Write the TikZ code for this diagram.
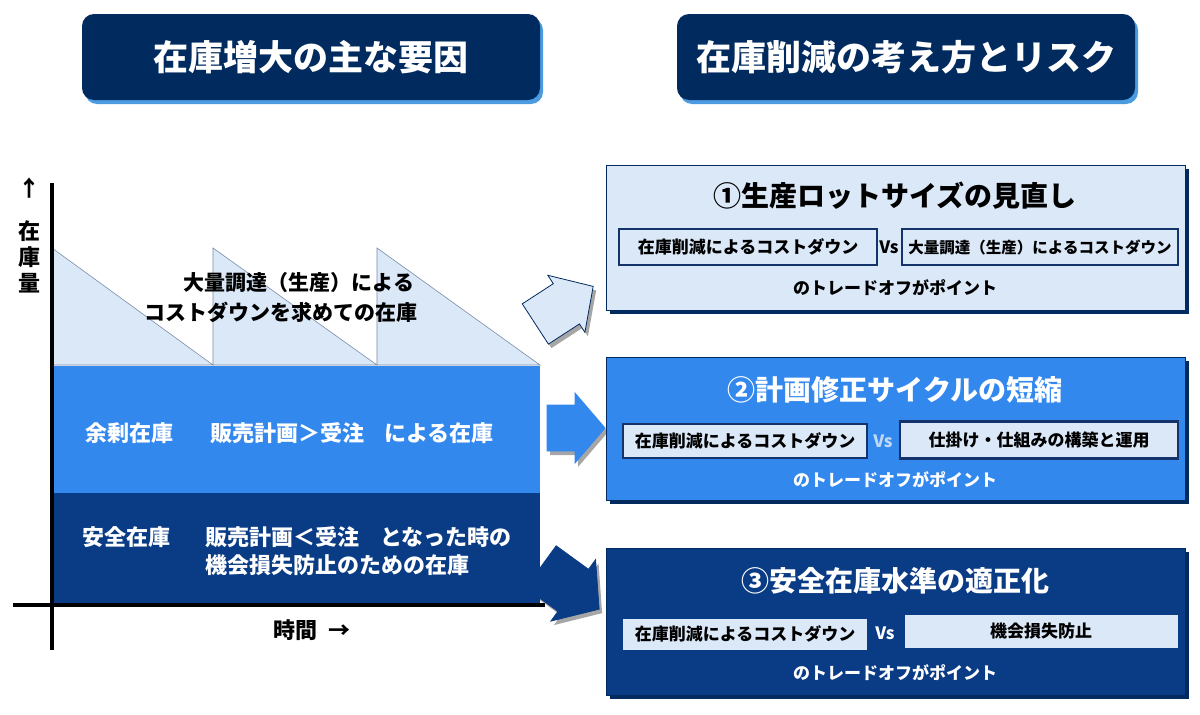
\documentclass[tikz,border=0pt]{standalone}
\usepackage{fontspec}
\setmainfont{Noto Sans CJK JP}
\usetikzlibrary{positioning,shadows}
\definecolor{tnavy}{HTML}{012A5E}
\definecolor{tedge}{HTML}{4A9BE0}
\definecolor{paleblue}{HTML}{DAE8F8}
\definecolor{midblue}{HTML}{3388EE}
\definecolor{deepblue}{HTML}{0A3B85}
\definecolor{frameblue}{HTML}{14336B}
\definecolor{sawline}{HTML}{7A8CA8}
\definecolor{vsblue}{HTML}{BFD9F5}
\newcommand\jpf[1]{\fontsize{#1}{#1}\selectfont\bfseries}
\tikzset{
  titlebox/.style={rounded corners=12pt, fill=tnavy, text=white, font=\jpf{35},
    minimum width=458pt, minimum height=86pt,
    drop shadow={shadow xshift=3pt, shadow yshift=-4pt, fill=tedge, opacity=1}},
  panel/.style={draw=tnavy, line width=0.8pt, minimum width=579pt,
    drop shadow={shadow xshift=4pt, shadow yshift=-4pt, fill=tnavy, opacity=1}},
  headline/.style={font=\jpf{28}},
  pairbox/.style={fill=paleblue, draw=frameblue, line width=2.5pt, font=\jpf{17}, inner sep=0pt},
  vsmark/.style={font=\jpf{17}},
  tradeoff/.style={font=\jpf{17}},
  bandtext/.style={text=white, font=\jpf{22}, anchor=west, inner sep=0pt},
  axis/.style={line width=4pt, draw=black},
  arrowbody/.style={line width=0.8pt,
    drop shadow={shadow xshift=3pt, shadow yshift=-4pt, fill=black, opacity=0.35}}
}
\begin{document}
\begin{tikzpicture}[x=1pt, y=-1pt]
\useasboundingbox (0,0) rectangle (1200,715);
% ================= heading bars =================
\node[titlebox] (cause) at (311,57) {在庫増大の主な要因};
\node[titlebox] (risk) at (906,57) {在庫削減の考え方とリスク};
% ================= block arrows =================
\begin{scope}[shift={(570,588)}, rotate=-36]
  \draw[arrowbody, fill=deepblue, draw=deepblue] (-36,-26) -- (4,-26) -- (4,-38) -- (36,0) -- (4,38) -- (4,26) -- (-36,26) -- cycle;
\end{scope}
% ================= inventory chart =================
\draw[fill=paleblue, draw=sawline, line width=0.6pt] (52,365) -- (52,248) -- (213,365) -- (213,248)
   -- (377,365) -- (377,248) -- (540,365) -- cycle;
\node[font=\jpf{21}] (bulk1) at (299,283) {大量調達（生産）による};
\node[font=\jpf{21}] (bulk2) at (281,312) {コストダウンを求めての在庫};
\fill[midblue] (52,366) rectangle (540,493);
\fill[deepblue] (52,493) rectangle (540,605);
\node[bandtext] (surp) at (85,433) {余剰在庫};
\node[bandtext] (surpa) at (210,433) {販売計画＞受注};
\node[bandtext] (surpb) at (384,433) {による在庫};
\node[bandtext] (safe) at (82,537) {安全在庫};
\node[bandtext] (safea) at (205,537) {販売計画＜受注};
\node[bandtext] (safeb) at (380,537) {となった時の};
\node[bandtext] (safec) at (205,565) {機会損失防止のための在庫};
% axes
\coordinate (ytop) at (52,183);
\coordinate (ybot) at (52,650);
\coordinate (xl) at (13,605);
\coordinate (xr) at (545,605);
\draw[axis] (ytop) -- (ybot);
\draw[axis] (xl) -- (xr);
\node[font=\jpf{22}] (uparr) at (30,188) {↑};
\node[font=\jpf{22}, align=center, inner sep=0pt] (qty) at (30,257) {在\\[4pt]庫\\[4pt]量};
\node[font=\jpf{22}] (time) at (312,630) {時間\enspace→};
% remaining arrows
\begin{scope}[shift={(563,306)}, rotate=33]
  \draw[arrowbody, fill=paleblue, draw=tnavy] (-33,-24) -- (4,-24) -- (4,-34) -- (36,0) -- (4,34) -- (4,24) -- (-33,24) -- cycle;
\end{scope}
\begin{scope}[shift={(576,428)}]
  \draw[arrowbody, fill=midblue, draw=midblue] (-29,-23) -- (-1,-23) -- (-1,-35) -- (29,0) -- (-1,35) -- (-1,23) -- (-29,23) -- cycle;
\end{scope}
% ================= panel 1 =================
\node[panel, fill=paleblue, minimum height=145pt] (lot) at (895.5,237.5) {};
\node[headline] (lott) at (895,196) {①生産ロットサイズの見直し};
\node[pairbox, minimum width=258pt, minimum height=36pt] (lota) at (748,247) {在庫削減によるコストダウン};
\node[vsmark] (lotvs) at (889,247) {Vs};
\node[pairbox, minimum width=276pt, minimum height=36pt, font=\jpf{15.5}] (lotb) at (1040,247) {大量調達（生産）によるコストダウン};
\node[tradeoff] (lotc) at (895,288) {のトレードオフがポイント};
% ================= panel 2 =================
\node[panel, fill=midblue, minimum height=143pt] (cyc) at (895.5,428.5) {};
\node[headline, text=white] (cyct) at (895,390) {②計画修正サイクルの短縮};
\node[pairbox, minimum width=244pt, minimum height=34pt] (cyca) at (745,441) {在庫削減によるコストダウン};
\node[vsmark, text=vsblue] (cycvs) at (883,441) {Vs};
\node[pairbox, minimum width=278pt, minimum height=37pt] (cycb) at (1039,440) {仕掛け・仕組みの構築と運用};
\node[tradeoff, text=white] (cycc) at (895,480) {のトレードオフがポイント};
% ================= panel 3 =================
\node[panel, fill=deepblue, minimum height=147pt] (lvl) at (895.5,621.5) {};
\node[headline, text=white] (lvlt) at (895,581) {③安全在庫水準の適正化};
\node[pairbox, draw=none, minimum width=244pt, minimum height=31pt] (lvla) at (745,634) {在庫削減によるコストダウン};
\node[vsmark, text=white] (lvlvs) at (885,633) {Vs};
\node[pairbox, draw=none, minimum width=273pt, minimum height=33pt] (lvlb) at (1041,631) {機会損失防止};
\node[tradeoff, text=white] (lvlc) at (895,673) {のトレードオフがポイント};
\end{tikzpicture}
\end{document}
